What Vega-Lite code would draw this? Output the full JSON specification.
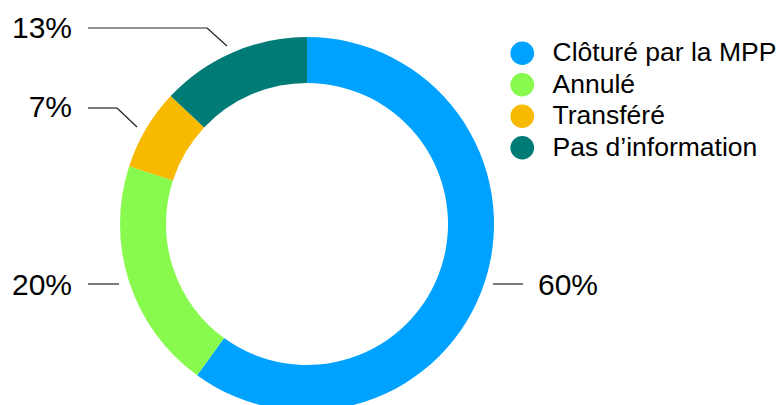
{
  "$schema": "https://vega.github.io/schema/vega-lite/v6.json",
  "width": 614,
  "height": 448,
  "autosize": {"type": "none"},
  "padding": {"left": 0, "top": 0, "right": 167, "bottom": 0},
  "background": "white",
  "config": {"view": {"stroke": null}, "font": "Liberation Sans"},
  "datasets": {
    "slices": [
      {"cat": "Clôturé par la MPP", "value": 60, "idx": 1},
      {"cat": "Annulé", "value": 20, "idx": 2},
      {"cat": "Transféré", "value": 7, "idx": 3},
      {"cat": "Pas d’information", "value": 13, "idx": 4}
    ],
    "leaders": [
      {"x": -219, "y": 196, "x2": -100, "y2": 196},
      {"x": -100, "y": 196, "x2": -80, "y2": 178},
      {"x": -219, "y": 116, "x2": -190, "y2": 116},
      {"x": -190, "y": 116, "x2": -170, "y2": 97},
      {"x": -219, "y": -60, "x2": -188, "y2": -60},
      {"x": 186, "y": -60, "x2": 216, "y2": -60}
    ],
    "labels": [
      {"label": "13%", "x": -235, "y": 195.5, "side": "left"},
      {"label": "7%", "x": -235, "y": 116, "side": "left"},
      {"label": "20%", "x": -235, "y": -62, "side": "left"},
      {"label": "60%", "x": 231, "y": -62, "side": "right"}
    ]
  },
  "layer": [
    {
      "data": {"name": "slices"},
      "mark": {"type": "arc", "innerRadius": 141, "outerRadius": 187},
      "encoding": {
        "theta": {"field": "value", "type": "quantitative", "stack": true},
        "order": {"field": "idx", "type": "quantitative"},
        "color": {
          "field": "cat",
          "type": "nominal",
          "sort": null,
          "scale": {
            "domain": ["Clôturé par la MPP", "Annulé", "Transféré", "Pas d’information"],
            "range": ["#00A2FF", "#88FA4E", "#F8BA00", "#017B76"]
          },
          "legend": {
            "orient": "none",
            "legendX": 509,
            "legendY": 40,
            "title": null,
            "padding": 0,
            "symbolType": "circle",
            "symbolSize": 560,
            "symbolStrokeWidth": 0,
            "symbolOpacity": 1,
            "labelFont": "Liberation Sans",
            "labelFontSize": 26.5,
            "labelColor": "#000000",
            "labelOffset": 17,
            "labelLimit": 400,
            "rowPadding": 4.5
          }
        }
      }
    },
    {
      "data": {"name": "leaders"},
      "mark": {"type": "rule", "color": "#222222", "strokeWidth": 1.2},
      "encoding": {
        "x": {"field": "x", "type": "quantitative", "scale": {"domain": [-307, 307], "nice": false, "zero": false}, "axis": null},
        "y": {"field": "y", "type": "quantitative", "scale": {"domain": [-224, 224], "nice": false, "zero": false}, "axis": null},
        "x2": {"field": "x2"},
        "y2": {"field": "y2"}
      }
    },
    {
      "data": {"name": "labels"},
      "transform": [{"filter": "datum.side === 'left'"}],
      "mark": {"type": "text", "align": "right", "baseline": "middle", "fontSize": 30, "color": "#000000", "font": "Liberation Sans"},
      "encoding": {
        "x": {"field": "x", "type": "quantitative"},
        "y": {"field": "y", "type": "quantitative"},
        "text": {"field": "label"}
      }
    },
    {
      "data": {"name": "labels"},
      "transform": [{"filter": "datum.side === 'right'"}],
      "mark": {"type": "text", "align": "left", "baseline": "middle", "fontSize": 30, "color": "#000000", "font": "Liberation Sans"},
      "encoding": {
        "x": {"field": "x", "type": "quantitative"},
        "y": {"field": "y", "type": "quantitative"},
        "text": {"field": "label"}
      }
    }
  ]
}
